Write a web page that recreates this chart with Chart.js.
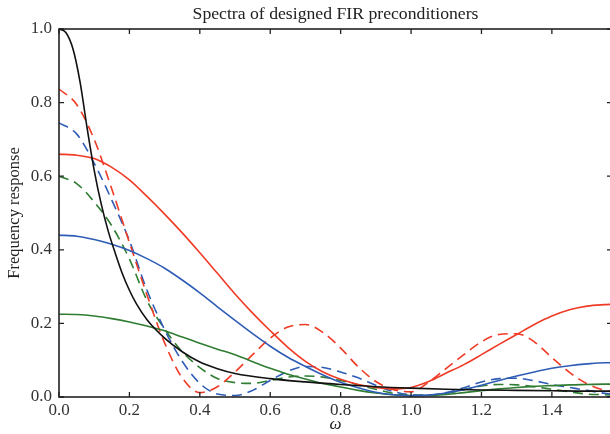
<!DOCTYPE html>
<html>
<head>
<meta charset="utf-8">
<script src="https://cdn.jsdelivr.net/npm/chart.js@4.4.1/dist/chart.umd.min.js"></script>
<style>
  html, body { margin: 0; padding: 0; background: #fff; overflow: hidden; }
  #wrap { width: 614px; height: 434px; }
</style>
</head>
<body>
<div id="wrap"><canvas id="spectra" width="614" height="434"></canvas></div>
<script>
// frequency grid (rad), 0 .. pi/2
var omega = [0, 0.05, 0.1, 0.15, 0.2, 0.25, 0.3, 0.35, 0.4, 0.45, 0.5, 0.55, 0.6, 0.65, 0.7, 0.75,
             0.8, 0.85, 0.9, 0.95, 1.0, 1.05, 1.1, 1.15, 1.2, 1.25, 1.3, 1.35, 1.4, 1.45, 1.5, 1.55, 1.5708];

var redSolid   = [0.66, 0.657, 0.648, 0.624, 0.59, 0.545, 0.497, 0.446, 0.392, 0.336, 0.28, 0.228, 0.18, 0.135, 0.097, 0.068,
                  0.048, 0.034, 0.026, 0.022, 0.026, 0.042, 0.065, 0.088, 0.115, 0.143, 0.17, 0.197, 0.22, 0.237, 0.247, 0.251, 0.252];
var blueSolid  = [0.44, 0.437, 0.428, 0.415, 0.398, 0.376, 0.35, 0.318, 0.283, 0.245, 0.208, 0.172, 0.138, 0.108, 0.083, 0.06,
                  0.04, 0.025, 0.013, 0.006, 0.003, 0.005, 0.011, 0.02, 0.032, 0.045, 0.057, 0.068, 0.078, 0.085, 0.09, 0.093, 0.093];
var greenSolid = [0.225, 0.224, 0.22, 0.213, 0.204, 0.193, 0.18, 0.163, 0.146, 0.13, 0.115, 0.096, 0.078, 0.062, 0.049, 0.037,
                  0.027, 0.018, 0.011, 0.006, 0.004, 0.004, 0.007, 0.012, 0.017, 0.022, 0.026, 0.029, 0.031, 0.033, 0.034, 0.035, 0.035];
var redDashed  = [0.837, 0.795, 0.70, 0.565, 0.42, 0.277, 0.147, 0.052, 0.012, 0.028, 0.068, 0.115, 0.16, 0.19, 0.197, 0.175,
                  0.133, 0.082, 0.042, 0.02, 0.014, 0.04, 0.078, 0.115, 0.15, 0.17, 0.172, 0.15, 0.107, 0.067, 0.036, 0.018, 0.014];
var blueDashed = [0.745, 0.715, 0.635, 0.535, 0.425, 0.29, 0.183, 0.097, 0.037, 0.008, 0.004, 0.018, 0.045, 0.07, 0.083, 0.08,
                  0.068, 0.052, 0.032, 0.015, 0.006, 0.005, 0.012, 0.025, 0.041, 0.05, 0.051, 0.044, 0.034, 0.026, 0.018, 0.01, 0.008];
var greenDashed = [0.60, 0.58, 0.53, 0.465, 0.375, 0.262, 0.185, 0.123, 0.08, 0.05, 0.039, 0.037, 0.045, 0.054, 0.057, 0.054,
                  0.045, 0.033, 0.021, 0.01, 0.004, 0.004, 0.01, 0.02, 0.03, 0.034, 0.033, 0.028, 0.021, 0.014, 0.008, 0.006, 0.005];

// the sharp one needs a finer grid near zero
var omegaBlack = [0, 0.02, 0.04, 0.06, 0.08, 0.1, 0.12, 0.14, 0.16, 0.18, 0.2, 0.22, 0.25, 0.3, 0.35, 0.4, 0.45, 0.5,
                  0.6, 0.7, 0.8, 0.9, 1.0, 1.1, 1.2, 1.3, 1.4, 1.5, 1.5708];
var blackSolid = [1.0, 0.99, 0.945, 0.855, 0.73, 0.616, 0.524, 0.45, 0.39, 0.335, 0.29, 0.253, 0.21, 0.16, 0.123, 0.095, 0.077, 0.064,
                  0.05, 0.041, 0.034, 0.028, 0.024, 0.021, 0.019, 0.018, 0.017, 0.016, 0.016];

var xTicks = [0, 0.2, 0.4, 0.6, 0.8, 1.0, 1.2, 1.4];
var yTicks = [0, 0.2, 0.4, 0.6, 0.8, 1.0];

var RED = '#ef3b26', BLUE = '#2f5db6', GREEN = '#2f7d32', BLACK = '#111111';
var SERIF = "'Liberation Serif', 'DejaVu Serif', serif";

function pts(xs, ys) {
    return xs.map(function(x, i) { return { x: x, y: ys[i] }; });
}

function series(xs, ys, color, dashed) {
    return {
        data: pts(xs, ys),
        borderColor: color,
        borderWidth: 1.6,
        borderDash: dashed ? [10, 6] : [],
        pointRadius: 0,
        fill: false,
        cubicInterpolationMode: 'monotone'
    };
}

// frame with inward ticks on all four sides
var frameTicks = {
    id: 'frameTicks',
    afterDraw(chart) {
        const { ctx, chartArea: a, scales } = chart;
        ctx.save();
        ctx.strokeStyle = '#222';
        ctx.lineWidth = 1.6;
        ctx.strokeRect(a.left, a.top, a.right - a.left, a.bottom - a.top);
        ctx.lineWidth = 1.3;
        ctx.beginPath();
        xTicks.forEach(function(v) {
            var px = scales.x.getPixelForValue(v);
            ctx.moveTo(px, a.bottom); ctx.lineTo(px, a.bottom - 5);
            ctx.moveTo(px, a.top); ctx.lineTo(px, a.top + 5);
        });
        yTicks.forEach(function(v) {
            var py = scales.y.getPixelForValue(v);
            ctx.moveTo(a.left, py); ctx.lineTo(a.left + 5, py);
            ctx.moveTo(a.right, py); ctx.lineTo(a.right - 5, py);
        });
        ctx.stroke();
        ctx.restore();
    }
};

new Chart(document.getElementById('spectra').getContext('2d'), {
    type: 'line',
    data: {
        datasets: [
            series(omegaBlack, blackSolid, BLACK, false),
            series(omega, redSolid, RED, false),
            series(omega, blueSolid, BLUE, false),
            series(omega, greenSolid, GREEN, false),
            series(omega, redDashed, RED, true),
            series(omega, blueDashed, BLUE, true),
            series(omega, greenDashed, GREEN, true)
        ]
    },
    options: {
        responsive: false,
        animation: false,
        layout: { padding: { left: 0, right: 2, top: 0, bottom: 0 } },
        plugins: {
            legend: { display: false },
            tooltip: { enabled: false },
            title: {
                display: true,
                text: 'Spectra of designed FIR preconditioners',
                fullSize: false,
                color: '#222',
                font: { family: SERIF, size: 17.7, weight: 'normal', lineHeight: '20px' },
                padding: { top: 4, bottom: 5 }
            }
        },
        scales: {
            x: {
                type: 'linear',
                min: 0,
                max: 1.5708,
                afterBuildTicks: function(s) { s.ticks = xTicks.map(function(v) { return { value: v }; }); },
                afterFit: function(s) { s.height = 37; },
                grid: { display: false, drawTicks: false },
                border: { display: false },
                ticks: {
                    padding: 3,
                    color: '#333',
                    font: { family: SERIF, size: 17 },
                    callback: function(v) { return v.toFixed(1); }
                },
                title: {
                    display: true,
                    text: 'ω',
                    color: '#222',
                    font: { family: SERIF, size: 17, style: 'italic' },
                    padding: { top: 0, bottom: -1 }
                }
            },
            y: {
                min: 0,
                max: 1,
                afterBuildTicks: function(s) { s.ticks = yTicks.map(function(v) { return { value: v }; }); },
                afterFit: function(s) { s.width = 59; },
                grid: { display: false, drawTicks: false },
                border: { display: false },
                ticks: {
                    padding: 7,
                    color: '#333',
                    font: { family: SERIF, size: 17 },
                    callback: function(v) { return v.toFixed(1); }
                },
                title: {
                    display: true,
                    text: 'Frequency response',
                    color: '#222',
                    font: { family: SERIF, size: 16.5 },
                    padding: { top: 5, bottom: 0 }
                }
            }
        }
    },
    plugins: [frameTicks]
});
</script>
</body>
</html>
